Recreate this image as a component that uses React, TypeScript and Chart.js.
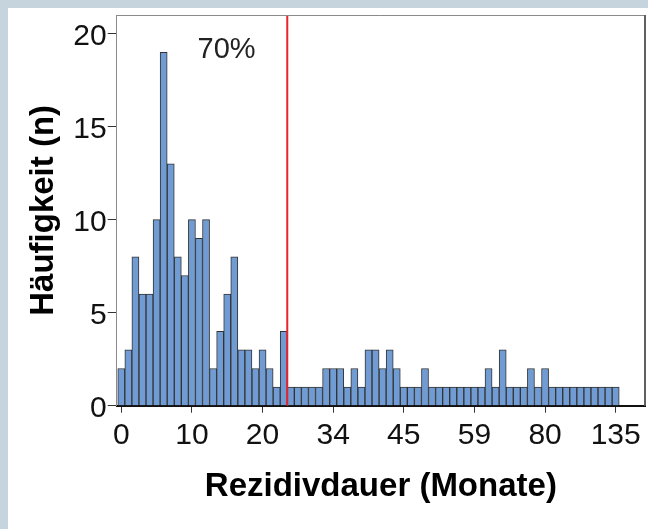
import React, { useEffect, useRef } from 'react';
import { Chart, registerables } from 'chart.js';

Chart.register(...registerables);

// Month values of each histogram bar (distinct durations, one bar each)
const categories: number[] = [
  0, 1, 2, 3, 4, 5, 6, 7, 8, 9,
  10, 11, 12, 13, 14, 15, 16, 17, 18, 19,
  20, 21, 22, 23, 24, 26, 27, 28, 30, 32,
  34, 35, 36, 37, 38, 39, 40, 41, 42, 44,
  45, 46, 47, 48, 50, 51, 53, 54, 56, 57,
  59, 60, 62, 63, 65, 68, 70, 72, 75, 78,
  80, 84, 87, 90, 95, 100, 106, 112, 118, 125,
  135,
];

// Frequency (n) per bar
const counts: number[] = [
  2, 3, 8, 6, 6, 10, 19, 13, 8, 7,
  10, 9, 10, 2, 4, 6, 8, 3, 3, 2,
  3, 2, 1, 4, 1, 1, 1, 1, 1, 2,
  2, 2, 1, 2, 1, 3, 3, 2, 3, 2,
  1, 1, 1, 2, 1, 1, 1, 1, 1, 1,
  1, 1, 2, 1, 3, 1, 1, 1, 2, 1,
  2, 1, 1, 1, 1, 1, 1, 1, 1, 1,
  1,
];

// Bars whose category labels are shown on the x axis
const xTickIndices: number[] = [0, 10, 20, 30, 40, 50, 60, 70];
const yTicks: number[] = [0, 5, 10, 15, 20];

// 70% cumulative cut-off lies after this bar index
const cutoffAfterIndex = 23;
const cutoffLabel = '70%';

const FONT = "'Liberation Sans', Arial, Helvetica, sans-serif";

const framePlugin = {
  id: 'framePlugin',
  afterDraw(chart: any) {
    const { ctx, chartArea, scales } = chart;
    const { left, right, top, bottom } = chartArea;
    ctx.save();
    // red cut-off line
    const xr = scales.x.getPixelForValue(cutoffAfterIndex + 0.5);
    ctx.strokeStyle = '#e8232b';
    ctx.lineWidth = 2;
    ctx.beginPath();
    ctx.moveTo(xr, top);
    ctx.lineTo(xr, bottom);
    ctx.stroke();
    // label
    ctx.fillStyle = '#222';
    ctx.font = `29px ${FONT}`;
    ctx.textAlign = 'center';
    ctx.textBaseline = 'middle';
    ctx.fillText(cutoffLabel, scales.x.getPixelForValue(14.9), scales.y.getPixelForValue(19.1));
    // frame top
    ctx.strokeStyle = '#8a8a8a';
    ctx.lineWidth = 1;
    ctx.beginPath();
    ctx.moveTo(left, top + 0.5);
    ctx.lineTo(right, top + 0.5);
    ctx.stroke();
    // frame right
    ctx.strokeStyle = '#606060';
    ctx.lineWidth = 2;
    ctx.beginPath();
    ctx.moveTo(right, top);
    ctx.lineTo(right, bottom);
    ctx.stroke();
    ctx.restore();
  },
};

export default function App() {
  const ref = useRef<HTMLCanvasElement | null>(null);

  useEffect(() => {
    if (!ref.current) return;
    const chart = new Chart(ref.current, {
      type: 'bar',
      data: {
        datasets: [
          {
            data: counts.map((c, i) => ({ x: i, y: c })),
            backgroundColor: '#719cd3',
            borderColor: '#333333',
            borderWidth: 1,
            barPercentage: 1,
            categoryPercentage: 1,
          },
        ],
      },
      options: {
        animation: false,
        responsive: false,
        events: [],
        layout: { padding: { top: 7, right: 3, left: 0, bottom: 0 } },
        plugins: { legend: { display: false }, tooltip: { enabled: false } },
        scales: {
          x: {
            type: 'linear',
            min: -0.65,
            max: 74.15,
            offset: false,
            z: 1,
            afterBuildTicks: (s: any) => {
              s.ticks = xTickIndices.map((v) => ({ value: v }));
            },
            afterFit: (s: any) => {
              s.height = 123.3;
              s.paddingLeft = 0;
              s.paddingRight = 0;
              s.paddingTop = 0;
              s.paddingBottom = 0;
            },
            ticks: {
              callback: (v: any) => String(categories[v as number]),
              font: { size: 30, family: FONT },
              color: '#111',
              padding: 5,
              maxRotation: 0,
              minRotation: 0,
              autoSkip: false,
            },
            grid: { offset: false, drawOnChartArea: false, drawTicks: true, tickLength: 7, color: '#333' },
            border: { display: true, color: '#111', width: 2 },
            title: {
              display: true,
              text: 'Rezidivdauer (Monate)',
              font: { size: 33, weight: 'bold', family: FONT },
              color: '#000',
              padding: { top: 0, bottom: 22 },
            },
          },
          y: {
            min: 0,
            max: 21,
            afterBuildTicks: (s: any) => {
              s.ticks = yTicks.map((v) => ({ value: v }));
            },
            afterFit: (s: any) => {
              s.width = 108.7;
              s.paddingLeft = 0;
              s.paddingRight = 0;
              s.paddingTop = 0;
              s.paddingBottom = 0;
            },
            ticks: {
              font: { size: 30, family: FONT },
              color: '#111',
              padding: 1,
              labelOffset: 3,
            },
            grid: { drawOnChartArea: false, drawTicks: true, tickLength: 9, color: '#333' },
            border: { display: true, color: '#8a8a8a', width: 1 },
            title: {
              display: true,
              text: 'Häufigkeit (n)',
              font: { size: 33, weight: 'bold', family: FONT },
              color: '#000',
              padding: { top: 16, bottom: 0 },
            },
          },
        },
      },
      plugins: [framePlugin],
    } as any);
    return () => chart.destroy();
  }, []);

  return (
    <div style={{ position: 'fixed', inset: 0, background: '#c6d4de' }}>
      <canvas
        ref={ref}
        width={640}
        height={521}
        style={{ position: 'absolute', left: 8, top: 8, width: 640, height: 521, background: '#ffffff' }}
      />
    </div>
  );
}
